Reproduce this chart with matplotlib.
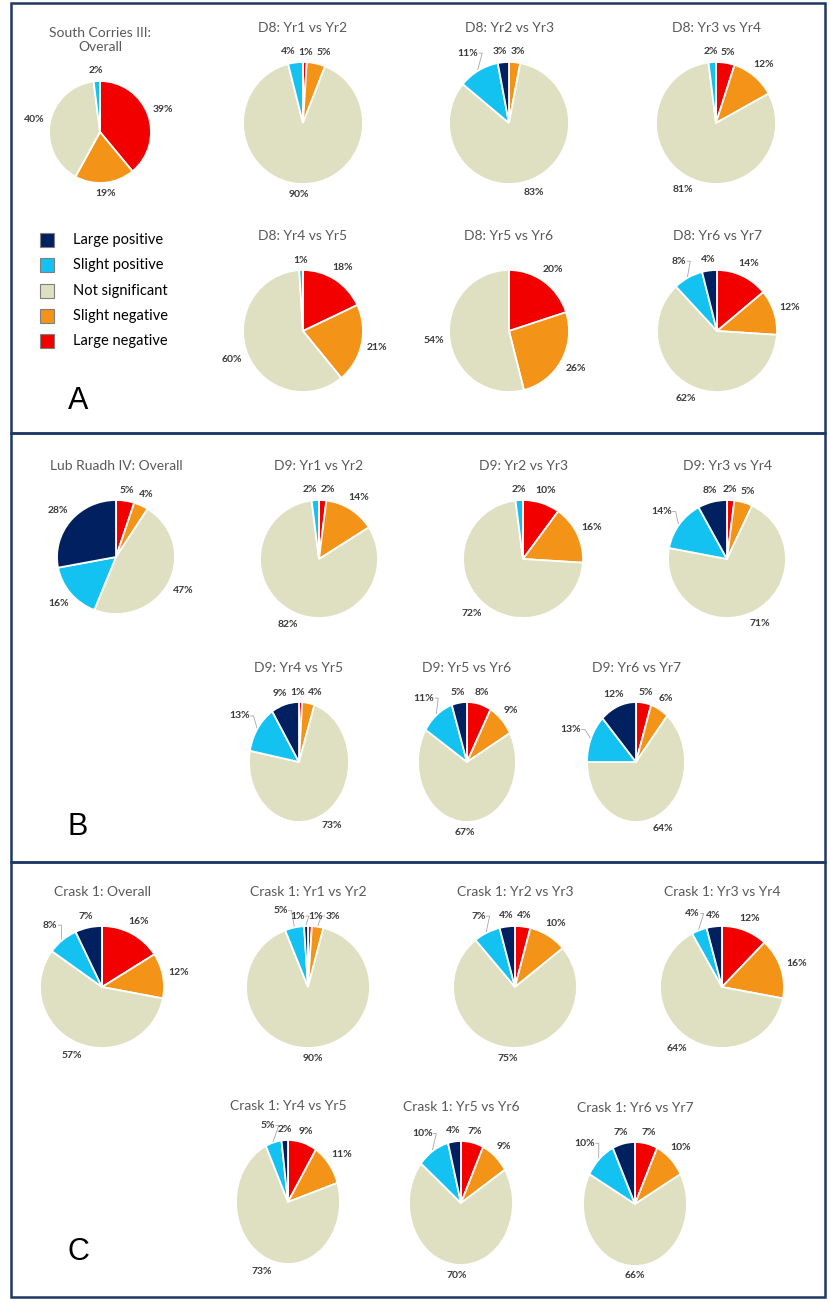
import matplotlib
matplotlib.use("Agg")
import matplotlib.pyplot as plt
from matplotlib.patches import Rectangle
import numpy as np

W, H = 830, 1303

# slice order, clockwise from 12 o'clock
categories = ["Large negative", "Slight negative", "Not significant", "Slight positive", "Large positive"]
colors = ["#F20000", "#F39418", "#DFE0C2", "#14C2F2", "#002060"]
legend_order = [4, 3, 2, 1, 0]

# ---- data (percent of cells per class) ----
titles_a = ["South Corries III:\nOverall", "D8: Yr1 vs Yr2", "D8: Yr2 vs Yr3", "D8: Yr3 vs Yr4",
            "D8: Yr4 vs Yr5", "D8: Yr5 vs Yr6", "D8: Yr6 vs Yr7"]
values_a = [[39, 19, 40, 2, 0],
            [1, 5, 90, 4, 0],
            [0, 3, 83, 11, 3],
            [5, 12, 81, 2, 0],
            [18, 21, 60, 1, 0],
            [20, 26, 54, 0, 0],
            [14, 12, 62, 8, 4]]

titles_b = ["Lub Ruadh IV: Overall", "D9: Yr1 vs Yr2", "D9: Yr2 vs Yr3", "D9: Yr3 vs Yr4",
            "D9: Yr4 vs Yr5", "D9: Yr5 vs Yr6", "D9: Yr6 vs Yr7"]
values_b = [[5, 4, 47, 16, 28],
            [2, 14, 82, 2, 0],
            [10, 16, 72, 2, 0],
            [2, 5, 71, 14, 8],
            [1, 4, 73, 13, 9],
            [8, 9, 67, 11, 5],
            [5, 6, 64, 13, 12]]

titles_c = ["Crask 1: Overall", "Crask 1: Yr1 vs Yr2", "Crask 1: Yr2 vs Yr3", "Crask 1: Yr3 vs Yr4",
            "Crask 1: Yr4 vs Yr5", "Crask 1: Yr5 vs Yr6", "Crask 1: Yr6 vs Yr7"]
values_c = [[16, 12, 57, 8, 7],
            [1, 3, 90, 5, 1],
            [4, 10, 75, 7, 4],
            [12, 16, 64, 4, 4],
            [9, 11, 73, 5, 2],
            [7, 9, 70, 10, 4],
            [7, 10, 66, 10, 7]]

# ---- layout in pixels: centre x, centre y, radius x, radius y ----
boxes_a = [(100, 132, 51, 51), (303, 123, 60, 61), (509, 123, 60, 61), (716, 123, 60, 61),
           (303, 331, 60, 61), (509, 331, 60, 61), (717, 331, 60, 61)]
boxes_b = [(116, 557, 59, 57), (319, 559, 59, 59), (523, 559, 60, 59), (727, 559, 59, 59),
           (299, 762, 50, 60), (467, 762, 49, 60), (636, 762, 49, 60)]
boxes_c = [(102, 987, 62, 61), (308, 987, 62, 61), (515, 987, 62, 61), (722, 987, 62, 61),
           (288, 1202, 52, 62), (461, 1203, 52, 62), (635, 1204, 52, 62)]

panels = [(11, 3, 433, "A", 401), (11, 433, 862, "B", 827), (11, 862, 1297, "C", 1252)]

FONT = "Lato"
TITLE_COL = "#595959"
LABEL_COL = "#3A3A3A"
BORDER_COL = "#1F3864"


def spread_labels(pos, sizes, angles):
    n = len(pos)
    for _ in range(80):
        moved = False
        for i in range(n):
            for j in range(i + 1, n):
                dx = pos[j][0] - pos[i][0]
                dy = pos[j][1] - pos[i][1]
                ox = (sizes[i][0] + sizes[j][0]) / 2 + 3 - abs(dx)
                oy = (sizes[i][1] + sizes[j][1]) / 2 + 1 - abs(dy)
                if ox > 0 and oy > 0:
                    a = np.arctan2(np.sin(angles[i]) + np.sin(angles[j]),
                                   np.cos(angles[i]) + np.cos(angles[j]))
                    if abs(np.sin(a)) > 0.6:
                        s = np.sign(dx) if dx != 0 else np.sign(np.cos(angles[j]) - np.cos(angles[i]))
                        pos[i][0] -= s * (ox / 2 + 0.1)
                        pos[j][0] += s * (ox / 2 + 0.1)
                    else:
                        s = np.sign(dy) if dy != 0 else np.sign(np.sin(angles[j]) - np.sin(angles[i]))
                        pos[i][1] -= s * (oy / 2 + 0.1)
                        pos[j][1] += s * (oy / 2 + 0.1)
                    moved = True
        if not moved:
            break
    return pos


def draw_pie(fig, title, vals, box):
    cx, cy, rx, ry = box
    ax = fig.add_axes([(cx - rx) / W, 1 - (cy + ry) / H, 2 * rx / W, 2 * ry / H])
    ax.pie(vals, colors=colors, startangle=90, counterclock=False, radius=1,
           wedgeprops=dict(edgecolor="white", linewidth=1.3))
    ax.set_aspect("auto")
    ax.set_xlim(-1, 1)
    ax.set_ylim(-1, 1)
    ax.axis("off")

    total = float(sum(vals))
    cum = 0.0
    pos, sizes, angles, texts, idx = [], [], [], [], []
    for k, v in enumerate(vals):
        if v <= 0:
            continue
        mid = np.radians(90 - (cum + v / 2) / total * 360)
        cum += v
        txt = f"{v}%"
        w = 5.8 * (len(txt) - 1) + 8.5
        h = 9.5
        c, s = np.cos(mid), np.sin(mid)
        ext = abs(c) * w / 2 + abs(s) * h / 2 + 5
        if k == 3 and 100 < np.degrees(mid) % 360 < 170:
            ext += 6
        pos.append([c * (rx + ext), s * (ry + ext)])
        sizes.append((w, h))
        angles.append(mid)
        texts.append(txt)
        idx.append(k)
    start = [p[:] for p in pos]
    pos = spread_labels(pos, sizes, angles)
    for p, p0, sz, a, t, k in zip(pos, start, sizes, angles, texts, idx):
        ax.text(p[0] / rx, p[1] / ry, t, ha="center", va="center", fontsize=7.5,
                fontweight="bold", color=LABEL_COL, family=FONT, clip_on=False)
        moved = np.hypot(p[0] - p0[0], p[1] - p0[1])
        if moved > 7 or (k == 3 and 100 < np.degrees(a) % 360 < 170):
            # short leader from label edge to the slice rim
            ex, ey = np.cos(a) * rx * 1.02, np.sin(a) * ry * 1.02
            side = 1 if ex > p[0] else -1
            lx = p[0] + side * (sz[0] / 2 + 1)
            ax.plot([lx / rx, (lx + side * 3) / rx, ex / rx], [p[1] / ry, p[1] / ry, ey / ry],
                    color="#A6A6A6", lw=0.6, clip_on=False)

    # title above the pie
    fig.axes[0].text(cx, cy - ry - 28, title, ha="center", va="bottom", fontsize=10,
                     color=TITLE_COL, family=FONT, linespacing=1.2)


fig = plt.figure(figsize=(W / 100, H / 100), dpi=100)
overlay = fig.add_axes([0, 0, 1, 1])
overlay.set_xlim(0, W)
overlay.set_ylim(H, 0)
overlay.axis("off")

for x0, y0, y1, letter, ly in panels:
    overlay.add_patch(Rectangle((x0, y0), 825 - x0, y1 - y0, fill=False,
                                edgecolor=BORDER_COL, lw=1.8))
    overlay.text(78, ly, letter, ha="center", va="center", fontsize=22,
                 family="Liberation Sans", color="black")

for titles, values, boxes in [(titles_a, values_a, boxes_a),
                              (titles_b, values_b, boxes_b),
                              (titles_c, values_c, boxes_c)]:
    for t, v, b in zip(titles, values, boxes):
        draw_pie(fig, t, v, b)

# legend (panel A)
for row, k in enumerate(legend_order):
    y = 240 + row * 25.3
    overlay.add_patch(Rectangle((40, y - 7), 14, 14, facecolor=colors[k],
                                edgecolor="#7F7F7F", lw=0.8))
    overlay.text(73, y, categories[k], ha="left", va="center", fontsize=10.5,
                 family=FONT, color="black")

fig.savefig("out.png", dpi=100)
